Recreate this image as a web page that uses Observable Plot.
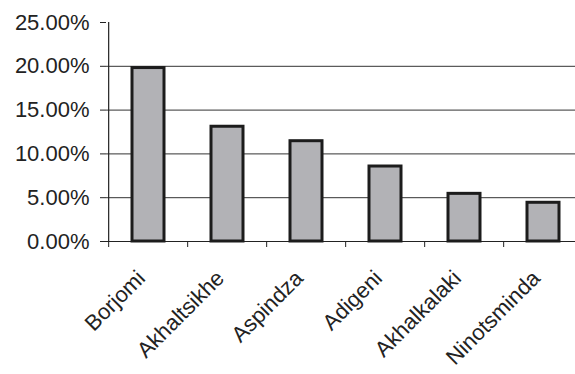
<!DOCTYPE html>
<html>
<head>
<meta charset="utf-8">
<script src="https://cdn.jsdelivr.net/npm/d3@7"></script>
<script src="https://cdn.jsdelivr.net/npm/@observablehq/plot@0.6"></script>
<style>
  html, body { margin: 0; padding: 0; background: #fff; }
  svg { display: block; }
</style>
</head>
<body>
<div id="chart"></div>
<script>
// Share by district
const districts = ["Borjomi", "Akhaltsikhe", "Aspindza", "Adigeni", "Akhalkalaki", "Ninotsminda"];
const shares = [0.198, 0.131, 0.1145, 0.0856, 0.0544, 0.0442];
const yTicks = [0, 0.05, 0.10, 0.15, 0.20, 0.25];
const gridValues = [0.05, 0.10, 0.15, 0.20];

const rows = districts.map((d, i) => ({district: d, share: shares[i]}));

const xRange = [106, 584];
const step = (xRange[1] - xRange[0]) / districts.length;
const font = "'Liberation Sans', Arial, Helvetica, sans-serif";

const chart = Plot.plot({
  width: 575,
  height: 374,
  marginLeft: 106,
  marginRight: 0,
  marginTop: 22,
  marginBottom: 133,
  style: {fontFamily: font, color: "#222", background: "#fff"},
  x: {domain: districts, range: xRange, paddingInner: 0.6, paddingOuter: 0.3, label: null},
  y: {domain: [0, 0.25], label: null},
  marks: [
    Plot.ruleY(gridValues, {stroke: "#333", strokeWidth: 1}),
    Plot.ruleY([0], {stroke: "#222", strokeWidth: 1.2}),
    // vertical axis line along the left edge of the first band
    Plot.ruleX([districts[0]], {dx: -step / 2, y1: 0, y2: 0.25, stroke: "#222", strokeWidth: 1.2}),
    Plot.axisY({ticks: yTicks, tickFormat: d3.format(".2%"), tickSize: 6, tickPadding: 11,
                fontSize: 22, stroke: "#222", label: null}),
    // tick marks between categories
    Plot.axisX({ticks: districts, text: null, tickSize: 6, dx: -step / 2, stroke: "#222", label: null}),
    Plot.axisX({tickRotate: -45, tickSize: 0, tickPadding: 33, dx: -7, fontSize: 22, label: null}),
    Plot.barY(rows, {x: "district", y: "share", fill: "#b2b2b6", stroke: "#1c1c1c", strokeWidth: 3})
  ]
});
document.getElementById("chart").append(chart);
</script>
</body>
</html>
